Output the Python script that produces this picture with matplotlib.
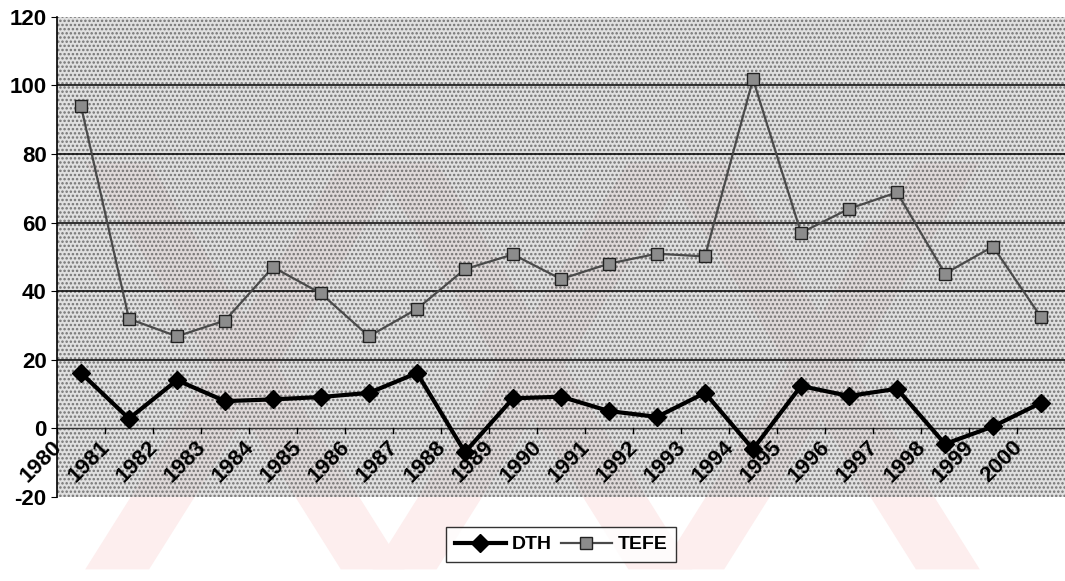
import matplotlib.pyplot as plt
from matplotlib.patches import Polygon

years = list(range(1980, 2001))
dth = [16.1, 2.8, 14.0, 7.9, 8.4, 9.1, 10.3, 16.1, -7.0, 8.7, 9.2,
       5.0, 3.3, 10.3, -6.1, 12.3, 9.4, 11.5, -4.6, 0.5, 7.4]
tefe = [94.0, 31.9, 26.8, 31.4, 47.0, 39.3, 26.8, 34.8, 46.4, 50.7, 43.5,
        48.0, 50.9, 50.1, 101.8, 57.0, 64.0, 68.8, 45.1, 53.0, 32.4]

plt.rcParams['font.family'] = ['Liberation Sans', 'DejaVu Sans']
plt.rcParams['hatch.color'] = '#333333'
plt.rcParams['hatch.linewidth'] = 1.2

fig = plt.figure(figsize=(10.65, 5.81), dpi=100)
ax = fig.add_axes([0.0535, 0.145, 0.9465, 0.826])

# faint watermark bands
for x0 in [0.08, 0.35, 0.62]:
    fig.patches.append(Polygon([[x0, 0.72], [x0 + 0.06, 0.72], [x0 + 0.30, 0.02], [x0 + 0.24, 0.02]],
                               closed=True, transform=fig.transFigure, facecolor='#fdeeee',
                               edgecolor='none', zorder=-5))
    fig.patches.append(Polygon([[x0 + 0.30, 0.72], [x0 + 0.24, 0.72], [x0, 0.02], [x0 + 0.06, 0.02]],
                               closed=True, transform=fig.transFigure, facecolor='#fdeeee',
                               edgecolor='none', zorder=-5))

ax.set_facecolor('none')
ax.fill_between([-0.5, 20.5], -20, 120, facecolor='#cccccc', edgecolor='#333333',
                hatch='....', linewidth=0, alpha=0.6, zorder=0)

x = list(range(len(years)))
for g in [20, 40, 60, 80, 100]:
    ax.axhline(g, color='black', linewidth=1.1, zorder=1)
ax.axhline(0, color='#333333', linewidth=1.0, zorder=1)

ax.plot(x, dth, color='black', linewidth=3.0, marker='D', markersize=9,
        markerfacecolor='black', markeredgecolor='black', label='DTH', zorder=3)
ax.plot(x, tefe, color='#4a4a4a', linewidth=1.6, marker='s', markersize=9,
        markerfacecolor='#8c8c8c', markeredgecolor='#222222', label='TEFE', zorder=3)

ax.set_xlim(-0.5, 20.5)
ax.set_ylim(-20, 120)
ax.set_yticks(range(-20, 121, 20))
ax.set_yticklabels([str(v) for v in range(-20, 121, 20)], fontweight='bold')
ax.tick_params(axis='y', labelsize=16, length=4, direction='out')
ax.set_xticks([])
for s in ['top', 'right', 'bottom']:
    ax.spines[s].set_visible(False)
ax.spines['left'].set_linewidth(1.2)

# category tick marks on the zero line and rotated year labels
for i, yr in enumerate(years):
    ax.plot([i - 0.5, i - 0.5], [0, -1.5], color='black', linewidth=1, zorder=2)
    ax.text(i - 0.3, -2.5, str(yr), rotation=45, ha='right', va='top',
            fontsize=16, fontweight='bold', zorder=4)

leg = fig.legend(loc='center', bbox_to_anchor=(0.527, 0.0625), ncol=2, frameon=True,
                 fancybox=False, edgecolor='black', fontsize=14, handlelength=2.6,
                 handletextpad=0.3, columnspacing=0.5, borderpad=0.45)
leg.get_frame().set_linewidth(1.0)
for t in leg.get_texts():
    t.set_fontweight('bold')

fig.savefig('out.png', dpi=100)
